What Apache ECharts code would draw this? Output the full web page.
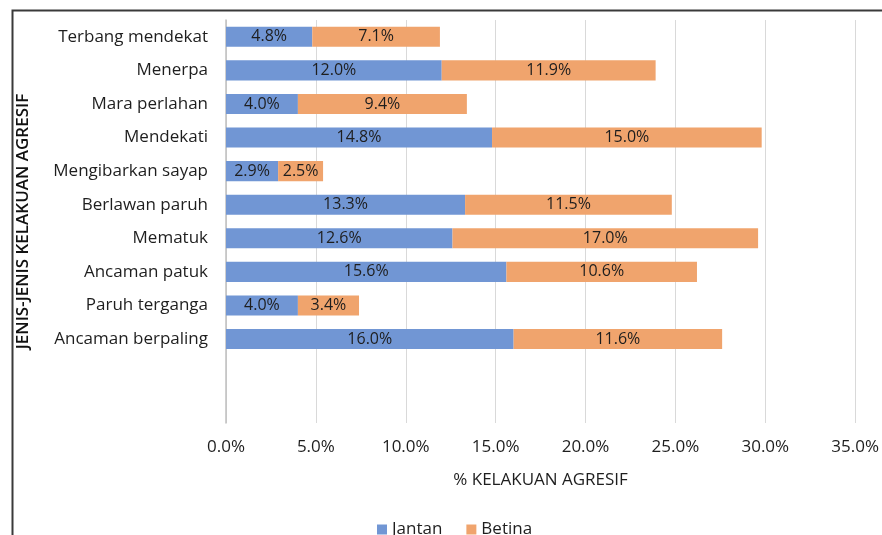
<!DOCTYPE html>
<html>
<head>
<meta charset="utf-8">
<script src="https://cdn.jsdelivr.net/npm/echarts@6/dist/echarts.min.js"></script>
<style>
  html, body { margin: 0; padding: 0; background: #fff; }
  #chart { width: 882px; height: 535px; }
</style>
</head>
<body>
<div id="chart"></div>
<script>
// kategori dari atas ke bawah, dua slot kosong di bawah (seperti di Excel)
const categories = [
  'Terbang mendekat', 'Menerpa', 'Mara perlahan', 'Mendekati', 'Mengibarkan sayap',
  'Berlawan paruh', 'Mematuk', 'Ancaman patuk', 'Paruh terganga', 'Ancaman berpaling', '', ' '
];
const jantan = [4.8, 12.0, 4.0, 14.8, 2.9, 13.3, 12.6, 15.6, 4.0, 16.0, null, null];
const betina = [7.1, 11.9, 9.4, 15.0, 2.5, 11.5, 17.0, 10.6, 3.4, 11.6, null, null];
const xTicks = [0, 5, 10, 15, 20, 25, 30, 35];

const FONT = 'Open Sans';
const TXT = '#1e1e1e';

const chart = echarts.init(document.getElementById('chart'), null, { renderer: 'canvas' });

const label = {
  show: true, position: 'inside', color: TXT, fontSize: 16, fontFamily: FONT,
  formatter: p => p.value == null ? '' : p.value.toFixed(1) + '%',
};

chart.setOption({
  backgroundColor: '#fff',
  animation: false,
  textStyle: { fontFamily: FONT },
  graphic: [{
    type: 'rect', left: 10, top: 8,
    shape: { width: 900, height: 600 },
    style: { fill: 'none', stroke: '#3a3a3a', lineWidth: 2 },
    silent: true,
  }],
  grid: { left: 226, right: 25, top: 20, bottom: 112 },
  legend: {
    bottom: -8, left: 372,
    itemWidth: 10, itemHeight: 10, itemGap: 24, icon: 'rect',
    textStyle: { color: TXT, fontSize: 17, fontFamily: FONT },
    data: ['Jantan', 'Betina'],
  },
  xAxis: {
    type: 'value', min: xTicks[0], max: xTicks[xTicks.length - 1], interval: 5,
    name: '% KELAKUAN AGRESIF', nameLocation: 'middle', nameGap: 49,
    nameTextStyle: { color: TXT, fontSize: 17, fontFamily: FONT },
    axisLine: { show: false }, axisTick: { show: false },
    axisLabel: { color: TXT, fontSize: 17, margin: 16, formatter: v => v.toFixed(1) + '%' },
    splitLine: { show: true, lineStyle: { color: '#d9d9d9', width: 1 } },
  },
  yAxis: {
    type: 'category', data: categories, inverse: true,
    name: 'JENIS-JENIS KELAKUAN AGRESIF', nameLocation: 'middle', nameGap: 194,
    nameTextStyle: { color: '#111', fontSize: 17, fontFamily: FONT, fontWeight: 600 },
    axisLine: { show: true, lineStyle: { color: '#bfbfbf', width: 1.5 } },
    axisTick: { show: false },
    axisLabel: { color: TXT, fontSize: 17, margin: 18 },
  },
  series: [
    {
      name: 'Jantan', type: 'bar', stack: 'total', data: jantan,
      barCategoryGap: '40%',
      itemStyle: { color: '#7196d4' }, label,
    },
    {
      name: 'Betina', type: 'bar', stack: 'total', data: betina,
      barCategoryGap: '40%',
      itemStyle: { color: '#f0a46d' }, label,
    },
  ],
});
</script>
</body>
</html>
